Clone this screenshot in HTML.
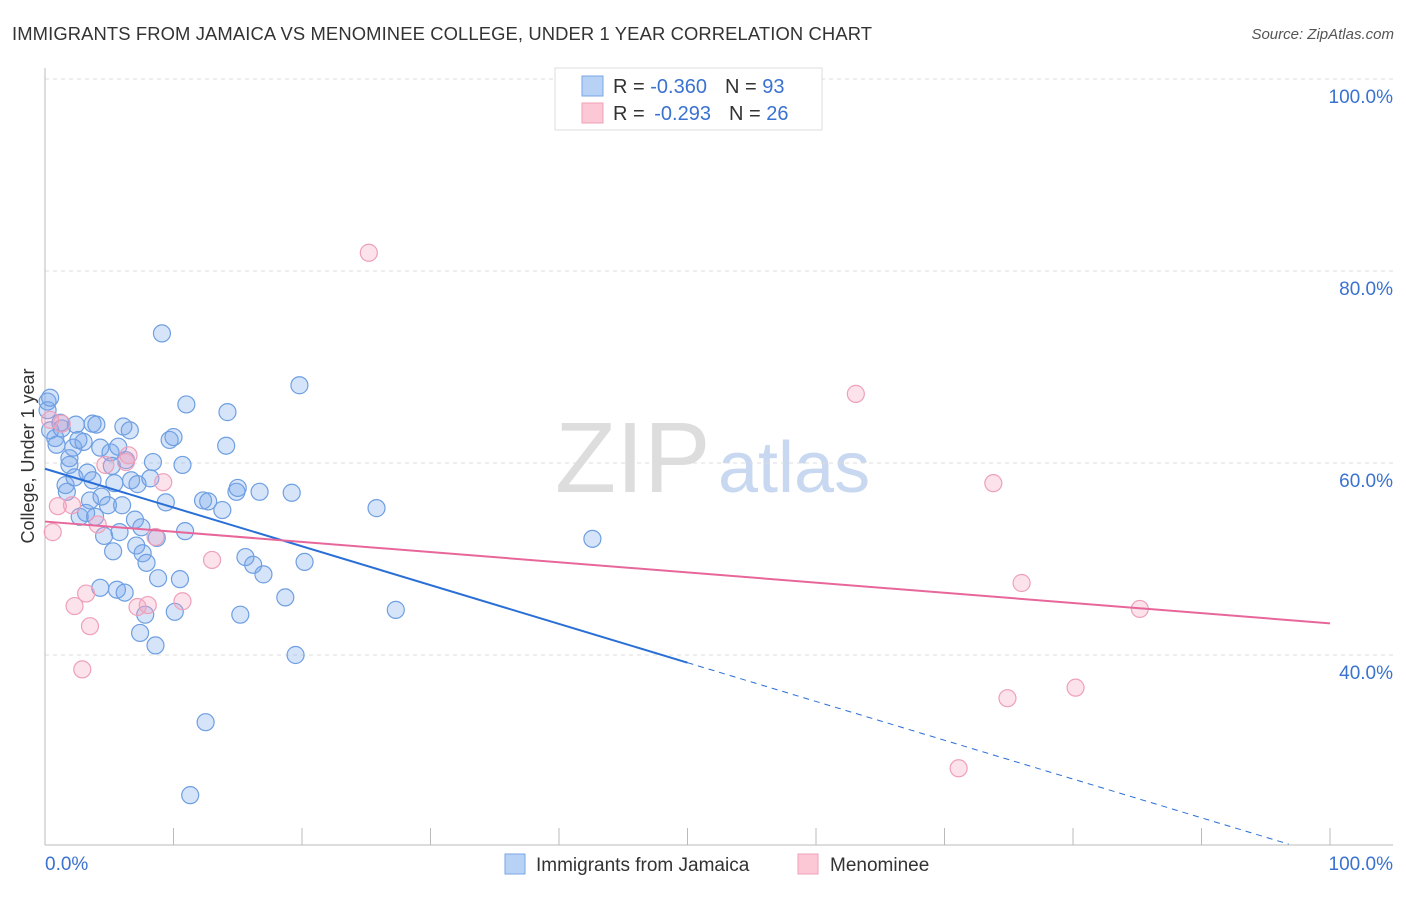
<!DOCTYPE html>
<html><head><meta charset="utf-8"><style>
body{margin:0;background:#fff;font-family:"Liberation Sans",sans-serif}
svg text{font-family:"Liberation Sans",sans-serif}
</style></head><body>
<svg id="c" width="1406" height="892" xmlns="http://www.w3.org/2000/svg">
<text x="12" y="40" font-size="18.4" fill="#333" textLength="860" lengthAdjust="spacing">IMMIGRANTS FROM JAMAICA VS MENOMINEE COLLEGE, UNDER 1 YEAR CORRELATION CHART</text>
<text x="1394" y="39" font-size="15" fill="#555" font-style="italic" text-anchor="end">Source: ZipAtlas.com</text>
<text x="34" y="456" font-size="18" fill="#333" text-anchor="middle" transform="rotate(-90 34 456)">College, Under 1 year</text>
<g><text x="555" y="492" font-size="100" fill="#ddd" font-family="Liberation Serif">ZIP</text><text x="718" y="492" font-size="72" fill="#c8d8f0">atlas</text></g>
<g id="grid"></g><g id="marks"></g>
<g>
<rect x="555" y="68" width="267" height="62" fill="#fff" stroke="#ddd"/>
<rect x="582" y="76" width="21" height="20" fill="#b8d2f5" stroke="#7aa6e6"/>
<rect x="582" y="103" width="21" height="20" fill="#fcc8d6" stroke="#f0a0b8"/>
<text x="613" y="93" font-size="20" fill="#333">R = <tspan fill="#3a72d0">-0.360</tspan><tspan dx="18">N = </tspan><tspan fill="#3a72d0">93</tspan></text>
<text x="613" y="120" font-size="20" fill="#333">R = <tspan fill="#3a72d0" dx="4">-0.293</tspan><tspan dx="18">N = </tspan><tspan fill="#3a72d0">26</tspan></text>
</g>
<g>
<rect x="505" y="854" width="20" height="20" fill="#b8d2f5" stroke="#7aa6e6"/>
<text x="536" y="871" font-size="19" fill="#333">Immigrants from Jamaica</text>
<rect x="798" y="854" width="20" height="20" fill="#fcc8d6" stroke="#f0a0b8"/>
<text x="830" y="871" font-size="19" fill="#333">Menominee</text>
</g>
</svg>
<script>
const blueX=[0.2,0.2,0.4,0.8,0.9,1.3,1.2,1.6,1.7,1.9,1.9,2.2,2.3,2.4,2.6,2.7,3.0,3.2,3.3,3.5,3.7,3.7,3.9,4.0,4.3,4.3,4.4,4.6,4.9,5.1,5.2,5.3,5.4,5.6,5.7,5.8,6.0,6.1,6.2,6.3,6.6,6.7,7.0,7.1,7.2,7.4,7.5,7.6,7.8,7.9,8.2,8.4,8.6,8.7,8.8,9.1,9.4,9.7,10.0,10.1,10.5,10.7,10.9,11.0,11.3,12.3,12.5,12.7,13.8,14.1,14.2,14.9,15.0,15.2,15.6,16.2,16.7,17.0,18.7,19.2,19.5,19.8,20.2,25.8,27.3,42.6,0.4];
const blueY=[66.4,65.5,63.4,62.6,61.9,63.6,64.2,57.7,57.0,59.8,60.5,61.6,58.5,64.0,62.4,54.4,62.2,54.8,59.0,56.1,58.2,64.1,54.4,64.0,47.0,61.6,56.5,52.4,55.6,61.1,59.7,50.8,57.9,46.8,61.7,52.8,55.6,63.8,46.5,60.3,63.4,58.2,54.1,51.4,57.8,42.3,53.3,50.6,44.2,49.6,58.4,60.1,41.0,52.2,48.0,73.5,55.9,62.4,62.7,44.5,47.9,59.8,52.9,66.1,25.4,56.1,33.0,56.0,55.1,61.8,65.3,57.0,57.4,44.2,50.2,49.4,57.0,48.4,46.0,56.9,40.0,68.1,49.7,55.3,44.7,52.1,66.8];
const pinkX=[0.4,0.6,1.0,1.3,2.1,2.3,2.9,3.2,3.5,4.1,4.7,6.3,6.5,7.2,8.0,8.6,9.2,10.7,13.0,25.2,63.1,73.8,76.0,74.9,80.2,71.1,85.2];
const pinkY=[64.5,52.8,55.5,64.1,55.6,45.1,38.5,46.4,43.0,53.6,59.8,60.1,60.8,45.0,45.2,52.3,58.0,45.6,49.9,81.9,67.2,57.9,47.5,35.5,36.6,28.2,44.8];
const yTicks=[40,60,80,100];
const yTickLabels=["40.0%","60.0%","80.0%","100.0%"];
const blueTrend=[59.4,-0.404];
const pinkTrend=[53.9,-0.106];
const X=v=>45+v*12.85, Y=v=>1039-v*9.6;
const NS="http://www.w3.org/2000/svg";
function mk(t,a,p){const e=document.createElementNS(NS,t);for(const k in a)e.setAttribute(k,a[k]);p.appendChild(e);return e;}
const g=document.getElementById('grid'),m=document.getElementById('marks');
yTicks.forEach((t,i)=>{
 const l=mk('line',{x1:45,x2:1393,y1:Y(t),y2:Y(t),stroke:'#ddd','stroke-dasharray':'4 4'},g);
 
 
 const tx=mk('text',{x:1393,y:Y(t)+24,'font-size':19,fill:'#3a72d0','text-anchor':'end'},g);
 tx.textContent=yTickLabels[i];
 
 
});
const ya=mk('line',{x1:45,x2:45,y1:68,y2:845,stroke:'#bbb'},g);


const xa=mk('line',{x1:45,x2:1393,y1:845,y2:845,stroke:'#bbb'},g);


for(let i=1;i<=10;i++){const t=mk('line',{x1:X(i*10),x2:X(i*10),y1:828,y2:845,stroke:'#bbb'},g);
 
 }
[[0,"0.0%",45,'start'],[100,"100.0%",1393,'end']].forEach(d=>{const t=mk('text',{x:d[2],y:870,'font-size':19,fill:'#3a72d0','text-anchor':d[3]},g);t.textContent=d[1];
 
 });
blueX.forEach((x,i)=>{const c=mk('circle',{cx:X(x),cy:Y(blueY[i]),r:8.5,fill:'rgba(120,165,235,0.3)',stroke:'#6e9fe2','stroke-width':1.2},m);
 
 });
pinkX.forEach((x,i)=>{const c=mk('circle',{cx:X(x),cy:Y(pinkY[i]),r:8.5,fill:'rgba(245,160,190,0.3)',stroke:'#eea0ba','stroke-width':1.2},m);
 
 });
const bl=mk('line',{x1:X(0),y1:Y(blueTrend[0]),x2:X(50),y2:Y(blueTrend[0]+50*blueTrend[1]),stroke:'#2a6fd6','stroke-width':2},m);


const xe=(20.3-blueTrend[0])/blueTrend[1];
const bd=mk('line',{x1:X(50),y1:Y(blueTrend[0]+50*blueTrend[1]),x2:X(xe),y2:Y(20.3),stroke:'#2a6fd6','stroke-width':1,'stroke-dasharray':'6 5'},m);


const pl=mk('line',{x1:X(0),y1:Y(pinkTrend[0]),x2:X(100),y2:Y(pinkTrend[0]+100*pinkTrend[1]),stroke:'#e8679a','stroke-width':2},m);


</script>
</body></html>
